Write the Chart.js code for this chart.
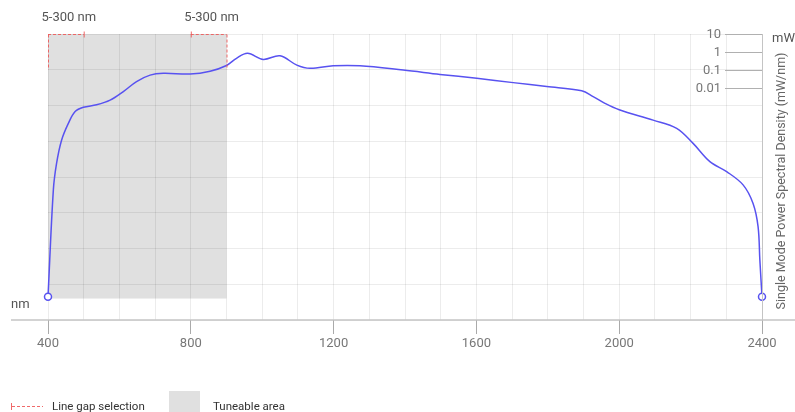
<!DOCTYPE html>
<html>
<head>
<meta charset="utf-8">
<script src="https://cdn.jsdelivr.net/npm/chart.js@4.4.0/dist/chart.umd.min.js"></script>
<style>
  body { margin: 0; background: #fff; }
  canvas { display: block; }
</style>
</head>
<body>
<canvas id="spectrum" width="795" height="412"></canvas>
<script>
'use strict';

// wavelength (nm) and log10 of spectral density (mW/nm)
var wavelengths = [400, 415, 424, 438, 457, 476, 499, 536, 574, 611, 648, 686, 723, 798, 854, 900,
  928, 959, 1003, 1050, 1097, 1134, 1199, 1274, 1395, 1498, 1601, 1703, 1797, 1895, 1927, 1960,
  2000, 2095, 2161, 2207, 2254, 2301, 2347, 2375, 2389, 2394, 2400];
var densityLog = [-13.7, -7.72, -6.24, -4.94, -4.0, -3.34, -3.1, -2.96, -2.7, -2.22, -1.66, -1.3, -1.2, -1.24, -1.08, -0.76,
  -0.36, -0.08, -0.42, -0.22, -0.74, -0.92, -0.78, -0.78, -1.02, -1.26, -1.48, -1.72, -1.94, -2.18, -2.5, -2.88,
  -3.24, -3.82, -4.28, -5.12, -6.14, -6.7, -7.44, -8.48, -9.78, -11.64, -13.7];

var xTickLabels = [400, 800, 1200, 1600, 2000, 2400];
var powerLabels = ['10', '1', '0.1', '0.01'];
var tuneRange = [400, 900];
var tuneFloor = -13.8;
var gapSpans = [[400, 500], [800, 900]];
var gapLabel = '5-300 nm';
var gapDepth = -1;

var FONT = 'Roboto, "Noto Sans", sans-serif';
var LINE = 'rgb(88, 82, 240)';
var RED = 'rgba(238, 90, 90, 0.9)';

var points = wavelengths.map(function(w, i) { return {x: w, y: densityLog[i]}; });

var decorations = {
  id: 'decorations',
  beforeDraw: function(chart) {
    var c = chart.ctx, x = chart.scales.x, y = chart.scales.y;
    c.save();
    c.fillStyle = '#e0e0e0';
    var left = x.getPixelForValue(tuneRange[0]), right = x.getPixelForValue(tuneRange[1]);
    var top = y.getPixelForValue(y.max), bottom = y.getPixelForValue(tuneFloor);
    c.fillRect(left, top, right - left, bottom - top);
    c.restore();
  },
  afterDraw: function(chart) {
    var c = chart.ctx, x = chart.scales.x, y = chart.scales.y, area = chart.chartArea;
    c.save();

    // extended x axis line and right border
    c.strokeStyle = '#c4c4c4';
    c.lineWidth = 1.5;
    c.beginPath();
    c.moveTo(11, area.bottom);
    c.lineTo(795, area.bottom);
    c.stroke();
    c.lineWidth = 1;
    c.beginPath();
    c.moveTo(area.right + 0.5, area.top);
    c.lineTo(area.right + 0.5, area.bottom);
    c.stroke();

    // power scale
    c.strokeStyle = '#b0b0b0';
    c.fillStyle = '#777';
    c.font = '13px ' + FONT;
    c.textAlign = 'right';
    c.textBaseline = 'middle';
    powerLabels.forEach(function(lbl) {
      var py = Math.round(y.getPixelForValue(Math.log10(parseFloat(lbl)))) + 0.5;
      c.beginPath();
      c.moveTo(area.right - 37, py);
      c.lineTo(area.right, py);
      c.stroke();
      c.fillText(lbl, area.right - 41, py);
    });
    c.textAlign = 'left';
    c.fillStyle = '#555';
    c.fillText('mW', 772, 39);

    // axis title
    c.save();
    c.translate(782, 181);
    c.rotate(-Math.PI / 2);
    c.textAlign = 'center';
    c.font = '12.5px ' + FONT;
    c.fillStyle = '#666';
    c.fillText('Single Mode Power Spectral Density (mW/nm)', 0, 0);
    c.restore();

    c.fillStyle = '#555';
    c.font = '13px ' + FONT;
    c.textAlign = 'left';
    c.fillText('nm', 11, 305);

    // line gap markers
    var topY = y.getPixelForValue(y.max) + 0.5;
    var depthY = y.getPixelForValue(gapDepth);
    gapSpans.forEach(function(span, i) {
      var a = x.getPixelForValue(span[0]), b = x.getPixelForValue(span[1]);
      var tickX = i === 0 ? b : a, dropX = i === 0 ? a : b;
      c.strokeStyle = RED;
      c.lineWidth = 1;
      c.setLineDash([3, 2]);
      c.beginPath();
      c.moveTo(a, topY);
      c.lineTo(b, topY);
      c.moveTo(dropX + 0.5, topY);
      c.lineTo(dropX + 0.5, depthY);
      c.stroke();
      c.setLineDash([]);
      c.beginPath();
      c.moveTo(tickX + 0.5, topY - 3);
      c.lineTo(tickX + 0.5, topY + 3);
      c.stroke();
      c.fillStyle = '#555';
      c.textAlign = 'center';
      c.fillText(gapLabel, (a + b) / 2 + 3, 18);
    });

    // legend
    c.strokeStyle = RED;
    c.beginPath();
    c.moveTo(11.5, 403);
    c.lineTo(11.5, 410);
    c.stroke();
    c.setLineDash([3, 2]);
    c.beginPath();
    c.moveTo(12, 406.5);
    c.lineTo(43, 406.5);
    c.stroke();
    c.setLineDash([]);
    c.fillStyle = '#e0e0e0';
    c.fillRect(169, 391, 31, 21);
    c.fillStyle = '#333';
    c.font = '11.5px ' + FONT;
    c.textAlign = 'left';
    c.fillText('Line gap selection', 52, 407);
    c.fillText('Tuneable area', 213, 407);

    c.restore();
  }
};

var ctx = document.getElementById('spectrum').getContext('2d');
var chart = new Chart(ctx, {
  type: 'line',
  data: {
    datasets: [{
      data: points,
      borderColor: LINE,
      borderWidth: 1.5,
      tension: 0.35,
      clip: false,
      pointRadius: function(p) { return (p.dataIndex === 0 || p.dataIndex === points.length - 1) ? 3.5 : 0; },
      pointBackgroundColor: '#fff',
      pointBorderColor: LINE,
      pointBorderWidth: 1.5,
      fill: false
    }]
  },
  options: {
    responsive: false,
    animation: false,
    layout: { padding: { top: 34, right: 33, left: 0, bottom: 0 } },
    plugins: { legend: { display: false }, tooltip: { enabled: false } },
    scales: {
      x: {
        type: 'linear',
        min: 400,
        max: 2400,
        afterFit: function(s) { s.height = 92; },
        border: { display: false },
        grid: {
          color: 'rgba(0, 0, 0, 0.075)',
          tickLength: 14,
          tickColor: function(t) { return (t.tick && xTickLabels.indexOf(t.tick.value) >= 0) ? '#aaa' : 'rgba(0,0,0,0)'; }
        },
        ticks: {
          stepSize: 100,
          autoSkip: false,
          maxRotation: 0,
          padding: 2,
          color: '#777',
          font: { family: FONT, size: 13 },
          callback: function(v) { return xTickLabels.indexOf(v) >= 0 ? String(v) : ''; }
        }
      },
      y: {
        min: -15,
        max: 1,
        afterFit: function(s) { s.width = 48; },
        border: { display: false },
        grid: { color: 'rgba(0, 0, 0, 0.075)', drawTicks: false },
        ticks: { stepSize: 2, display: false }
      }
    }
  },
  plugins: [decorations]
});
</script>
</body>
</html>
